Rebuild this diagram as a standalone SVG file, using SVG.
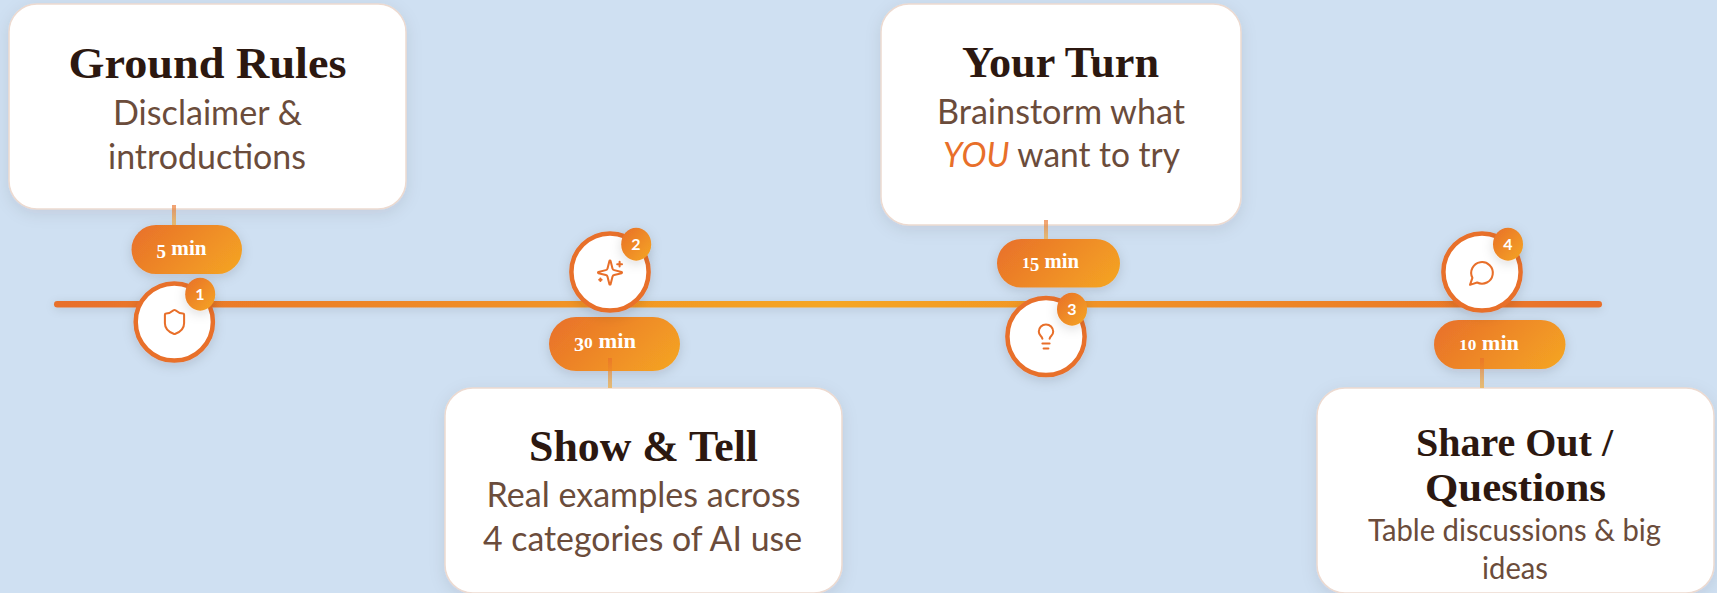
<svg xmlns="http://www.w3.org/2000/svg" width="1717" height="593" viewBox="0 0 1717 593">
<style>
.card{fill:#fff;stroke:#eddad0;stroke-width:1.5}
.title{font-family:"Liberation Serif",serif;font-weight:700;font-size:44px;fill:#2c1810;text-anchor:middle}
.sub{font-family:Lato,"Liberation Sans",sans-serif;font-size:34px;fill:#6b4c3b;text-anchor:middle}
.you{font-style:italic;fill:#e86f2a}
.pilltext{font-family:"Liberation Serif",serif;font-weight:700;font-size:20px;fill:#fff}
.dig{font-size:15.5px}
.dig2{font-size:18px}
.ring{fill:#fff;stroke:#e86f2a;stroke-width:4.5}
.num{font-family:Lato,"Liberation Sans",sans-serif;font-weight:700;font-size:16px;fill:#fff;text-anchor:middle}
.icon{fill:none;stroke:#e86f2a;stroke-width:1.7;stroke-linecap:round;stroke-linejoin:round}
.stem{fill:url(#stemGrad)}
</style>
<defs>
<linearGradient id="lineGrad" x1="0" y1="0" x2="1" y2="0"><stop offset="0" stop-color="#e86f2a"/><stop offset=".5" stop-color="#f5a623"/><stop offset="1" stop-color="#e86f2a"/></linearGradient>
<linearGradient id="stemGrad" x1="0" y1="0" x2="0" y2="1"><stop offset="0" stop-color="#e86f2a" stop-opacity=".65"/><stop offset="1" stop-color="#f5a623" stop-opacity=".6"/></linearGradient>
<linearGradient id="badgeGrad" x1="0" y1="0" x2="1" y2="1"><stop offset="0" stop-color="#e86f2a"/><stop offset="1" stop-color="#f5a623"/></linearGradient>
<linearGradient id="pill1" gradientUnits="userSpaceOnUse" x1="146.9" y1="209.6" x2="226.6" y2="289.4"><stop offset="0" stop-color="#e86f2a"/><stop offset="1" stop-color="#f5a623"/></linearGradient>
<linearGradient id="pill2" gradientUnits="userSpaceOnUse" x1="568.25" y1="297.75" x2="660.75" y2="390.25"><stop offset="0" stop-color="#e86f2a"/><stop offset="1" stop-color="#f5a623"/></linearGradient>
<linearGradient id="pill3" gradientUnits="userSpaceOnUse" x1="1015.6" y1="220.35" x2="1101.4" y2="306.15"><stop offset="0" stop-color="#e86f2a"/><stop offset="1" stop-color="#f5a623"/></linearGradient>
<linearGradient id="pill4" gradientUnits="userSpaceOnUse" x1="1454.65" y1="299.4" x2="1544.85" y2="389.6"><stop offset="0" stop-color="#e86f2a"/><stop offset="1" stop-color="#f5a623"/></linearGradient>
<filter id="cardShadow" x="-15%" y="-15%" width="130%" height="130%"><feDropShadow dx="0" dy="4" stdDeviation="8" flood-color="#2c1810" flood-opacity=".09"/></filter>
<filter id="softShadow" x="-40%" y="-40%" width="180%" height="200%"><feDropShadow dx="0" dy="3" stdDeviation="6" flood-color="#2c1810" flood-opacity=".14"/></filter>
<filter id="lineShadow" x="-2%" y="-500%" width="104%" height="1100%"><feDropShadow dx="0" dy="2" stdDeviation="5" flood-color="#2c1810" flood-opacity=".12"/></filter>
</defs>
<rect width="1717" height="593" fill="#cfe0f2"/>
<g id="timeline"><rect x="54" y="301" width="1548" height="6.5" rx="3.25" fill="url(#lineGrad)" filter="url(#lineShadow)"/></g>

<g id="card-ground-rules">
<rect class="card" x="9" y="4" width="397" height="205" rx="28" filter="url(#cardShadow)"/>
<text class="title" x="207.5" y="78" textLength="278" lengthAdjust="spacingAndGlyphs">Ground Rules</text>
<text class="sub" x="207.5" y="125" textLength="189" lengthAdjust="spacingAndGlyphs">Disclaimer &amp;</text>
<text class="sub" x="207" y="169" textLength="198" lengthAdjust="spacingAndGlyphs">introductions</text>
</g>
<g id="card-show-tell">
<rect class="card" x="445" y="388" width="397" height="205" rx="28" filter="url(#cardShadow)"/>
<text class="title" x="643.5" y="460.5" textLength="229" lengthAdjust="spacingAndGlyphs">Show &amp; Tell</text>
<text class="sub" x="643.5" y="507" textLength="314" lengthAdjust="spacingAndGlyphs">Real examples across</text>
<text class="sub" x="642.5" y="551" textLength="319" lengthAdjust="spacingAndGlyphs">4 categories of AI use</text>
</g>
<g id="card-your-turn">
<rect class="card" x="881" y="4" width="360" height="221" rx="28" filter="url(#cardShadow)"/>
<text class="title" x="1060.5" y="77" textLength="197" lengthAdjust="spacingAndGlyphs">Your Turn</text>
<text class="sub" x="1061" y="123.5" textLength="248" lengthAdjust="spacingAndGlyphs">Brainstorm what</text>
<text class="sub" x="1061.5" y="167" textLength="237" lengthAdjust="spacingAndGlyphs"><tspan class="you">YOU</tspan> want to try</text>
</g>
<g id="card-share-out">
<rect class="card" x="1317" y="388" width="397" height="205" rx="28" filter="url(#cardShadow)"/>
<text class="title" x="1514.5" y="456" style="font-size:41px" textLength="197" lengthAdjust="spacingAndGlyphs">Share Out /</text>
<text class="title" x="1515.5" y="501" style="font-size:41px" textLength="181" lengthAdjust="spacingAndGlyphs">Questions</text>
<text class="sub" x="1514.5" y="541" style="font-size:30.5px" textLength="293" lengthAdjust="spacingAndGlyphs">Table discussions &amp; big</text>
<text class="sub" x="1515" y="578.5" style="font-size:30.5px" textLength="66" lengthAdjust="spacingAndGlyphs">ideas</text>
</g>

<g id="pill-1"><rect x="131.5" y="225" width="110.5" height="49" rx="24.5" fill="url(#pill1)" filter="url(#softShadow)"/><text class="pilltext" x="156.5" y="255" textLength="50" lengthAdjust="spacingAndGlyphs"><tspan class="dig2" dy="3">5</tspan><tspan dy="-3"> min</tspan></text></g>
<g id="pill-2"><rect x="549" y="317" width="131" height="54" rx="27" fill="url(#pill2)" filter="url(#softShadow)"/><text class="pilltext" x="574" y="347.5" textLength="62" lengthAdjust="spacingAndGlyphs"><tspan class="dig2" dy="3">3</tspan><tspan class="dig" dy="-3">0</tspan> min</text></g>
<g id="pill-3"><rect x="997" y="239" width="123" height="48.5" rx="24.25" fill="url(#pill3)" filter="url(#softShadow)"/><text class="pilltext" x="1022" y="268" textLength="57" lengthAdjust="spacingAndGlyphs"><tspan class="dig">1</tspan><tspan class="dig2" dy="3">5</tspan><tspan dy="-3"> min</tspan></text></g>
<g id="pill-4"><rect x="1434" y="320" width="131.5" height="49" rx="24.5" fill="url(#pill4)" filter="url(#softShadow)"/><text class="pilltext" x="1459" y="350" textLength="60" lengthAdjust="spacingAndGlyphs"><tspan class="dig">10</tspan> min</text></g>

<g id="connectors">
<rect class="stem" x="172" y="205" width="4" height="20"/>
<rect class="stem" x="608" y="358" width="4" height="30"/>
<rect class="stem" x="1044" y="220" width="4" height="19"/>
<rect class="stem" x="1480" y="358" width="4" height="30"/>
</g>

<g id="node-1">
<circle class="ring" cx="174.3" cy="322" r="38.6" filter="url(#softShadow)"/>
<path class="icon" transform="translate(160.1 307.6) scale(1.2)" d="M20 13c0 5-3.5 7.5-7.66 8.95a1 1 0 0 1-.67-.01C7.5 20.5 4 18 4 13V6a1 1 0 0 1 1-1c2 0 4.5-1.2 6.24-2.72a1.17 1.17 0 0 1 1.52 0C14.51 3.81 17 5 19 5a1 1 0 0 1 1 1z"/>
<ellipse cx="200.2" cy="294.2" rx="15" ry="16.5" fill="url(#badgeGrad)" filter="url(#softShadow)"/>
<text class="num" x="200" y="300">1</text>
</g>
<g id="node-2">
<circle class="ring" cx="610" cy="272" r="38.6" filter="url(#softShadow)"/>
<g class="icon" transform="translate(595.6 258.2) scale(1.2)"><path d="M9.937 15.5A2 2 0 0 0 8.5 14.063l-6.135-1.582a.5.5 0 0 1 0-.962L8.5 9.936A2 2 0 0 0 9.937 8.5l1.582-6.135a.5.5 0 0 1 .963 0L14.063 8.5A2 2 0 0 0 15.5 9.937l6.135 1.581a.5.5 0 0 1 0 .964L15.5 14.063a2 2 0 0 0-1.437 1.437l-1.582 6.135a.5.5 0 0 1-.963 0z"/><path d="M20 3v4M22 5h-4M4 17v2M5 18H3"/></g>
<ellipse cx="636.2" cy="244.2" rx="15" ry="16.5" fill="url(#badgeGrad)" filter="url(#softShadow)"/>
<text class="num" x="636" y="250">2</text>
</g>
<g id="node-3">
<circle class="ring" cx="1046" cy="336.5" r="38.6" filter="url(#softShadow)"/>
<g class="icon" transform="translate(1031.6 322) scale(1.2)"><path d="M15 14c.2-1 .7-1.7 1.5-2.5 1-.9 1.5-2.2 1.5-3.5A6 6 0 0 0 6 8c0 1 .2 2.2 1.5 3.5.7.7 1.3 1.5 1.5 2.5"/><path d="M9 18h6M10 22h4"/></g>
<ellipse cx="1072" cy="309.2" rx="15" ry="16.5" fill="url(#badgeGrad)" filter="url(#softShadow)"/>
<text class="num" x="1072" y="315">3</text>
</g>
<g id="node-4">
<circle class="ring" cx="1482" cy="272" r="38.6" filter="url(#softShadow)"/>
<path class="icon" transform="translate(1467.6 258.5) scale(1.2)" d="M7.9 20A9 9 0 1 0 4 16.1L2 22Z"/>
<ellipse cx="1508" cy="244.2" rx="15" ry="16.5" fill="url(#badgeGrad)" filter="url(#softShadow)"/>
<text class="num" x="1508" y="250">4</text>
</g>
</svg>
